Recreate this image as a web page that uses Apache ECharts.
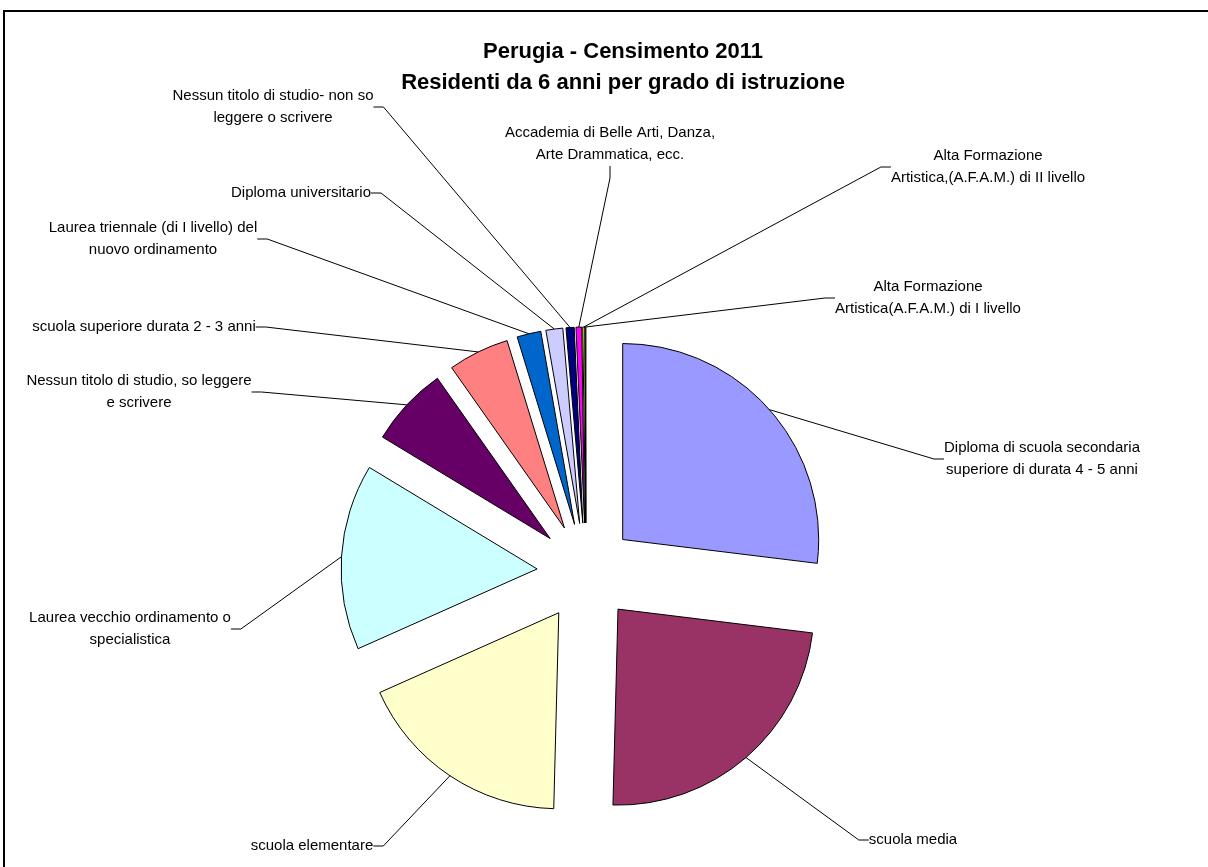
<!DOCTYPE html>
<html>
<head>
<meta charset="utf-8">
<script src="https://cdn.jsdelivr.net/npm/echarts@6/dist/echarts.min.js"></script>
<style>html,body{margin:0;padding:0;background:#fff}#chart{width:1208px;height:867px}</style>
</head>
<body>
<div id="chart"></div>
<script>
// ---- data (shares in %) ----
const categories = [
  "Diploma di scuola secondaria\nsuperiore di durata 4 - 5 anni",
  "scuola media",
  "scuola elementare",
  "Laurea vecchio ordinamento o\nspecialistica",
  "Nessun titolo di studio, so leggere\ne scrivere",
  "scuola superiore durata 2 - 3 anni",
  "Laurea triennale (di I livello) del\nnuovo ordinamento",
  "Diploma universitario",
  "Nessun titolo di studio- non so\nleggere o scrivere",
  "Accademia di Belle Arti, Danza,\nArte Drammatica, ecc.",
  "Alta Formazione\nArtistica,(A.F.A.M.) di II livello",
  "Alta Formazione\nArtistica(A.F.A.M.) di I livello"
];
const values = [26.94, 23.47, 17.92, 15.33, 6.58, 5.03, 1.97, 1.39, 0.67, 0.47, 0.17, 0.06];
const colors = ["#9999FF","#993366","#FFFFCC","#CCFFFF","#660066","#FF8080","#0066CC","#CCCCFF","#000080","#FF00FF","#FFFF00","#00FFFF"];
const titleText = "Perugia - Censimento 2011\nResidenti da 6 anni per grado di istruzione";

// ---- layout ----
const CENTER = [586, 572];
const RADIUS = 196;
const EXPLODE = 49;
// label centres and the side of the label where the leader line attaches
const labelLayoutSpec = [
  [1042, 459, 'left'],
  [913, 840, 'left'],
  [312, 846, 'right'],
  [130, 629, 'right'],
  [139, 392, 'right'],
  [144, 327, 'right'],
  [153, 239, 'right'],
  [301, 193, 'right'],
  [273, 107, 'right'],
  [610, 144, 'bottom'],
  [988, 167, 'left'],
  [928, 298, 'left']
];

const FONT = "'Liberation Sans', Arial, sans-serif";
const chart = echarts.init(document.getElementById('chart'));

const common = {
  type: 'pie',
  center: CENTER,
  radius: [0, RADIUS],
  startAngle: 90,
  clockwise: true,
  avoidLabelOverlap: false,
  emphasis: { disabled: true }
};

chart.setOption({
  animation: false,
  backgroundColor: '#fff',
  title: {
    text: titleText,
    left: 618, top: 31, textAlign: 'center',
    textStyle: { fontFamily: FONT, fontSize: 22, fontWeight: 'bold', color: '#000', lineHeight: 31 }
  },
  graphic: [{
    type: 'rect', silent: true, z: -1,
    shape: { x: 4, y: 11, width: 1400, height: 1000 },
    style: { fill: 'none', stroke: '#000', lineWidth: 2 }
  }],
  series: [
    Object.assign({}, common, {
      name: 'slices',
      selectedMode: 'multiple',
      selectedOffset: EXPLODE,
      itemStyle: { borderColor: '#000', borderWidth: 1 },
      label: { show: false },
      labelLine: { show: false },
      data: categories.map((c, i) => ({
        name: c, value: values[i], selected: true,
        itemStyle: { color: colors[i] }
      }))
    }),
    Object.assign({}, common, {
      name: 'labels',
      silent: true,
      z: 3,
      itemStyle: { color: 'rgba(0,0,0,0)', borderWidth: 0 },
      label: {
        show: true, position: 'outside', color: '#000',
        fontFamily: FONT, fontSize: 15, lineHeight: 22, align: 'center'
      },
      labelLine: { show: true, length: 20, length2: 10, lineStyle: { color: '#000', width: 1 } },
      labelLayout: function (p) {
        const s = labelLayoutSpec[p.dataIndex];
        const x = s[0], y = s[1];
        const w = p.labelRect.width, h = p.labelRect.height;
        let a, b;
        if (s[2] === 'left') { a = [x - w / 2, y]; b = [x - w / 2 - 10, y]; }
        else if (s[2] === 'right') { a = [x + w / 2, y]; b = [x + w / 2 + 10, y]; }
        else { a = [x, y + h / 2]; b = [x, y + h / 2 + 12]; }
        const res = { x: x, y: y, align: 'center', verticalAlign: 'middle' };
        if (p.labelLinePoints) {
          // arc point of the slice, pushed out by the explode offset
          const p0 = p.labelLinePoints[0];
          const vx = p0[0] - CENTER[0], vy = p0[1] - CENTER[1];
          const len = Math.sqrt(vx * vx + vy * vy) || 1;
          const q = [p0[0] + vx / len * EXPLODE, p0[1] + vy / len * EXPLODE];
          res.labelLinePoints = [q, b, a];
        }
        return res;
      },
      data: categories.map((c, i) => ({ name: c, value: values[i] }))
    })
  ]
});
</script>
</body>
</html>
